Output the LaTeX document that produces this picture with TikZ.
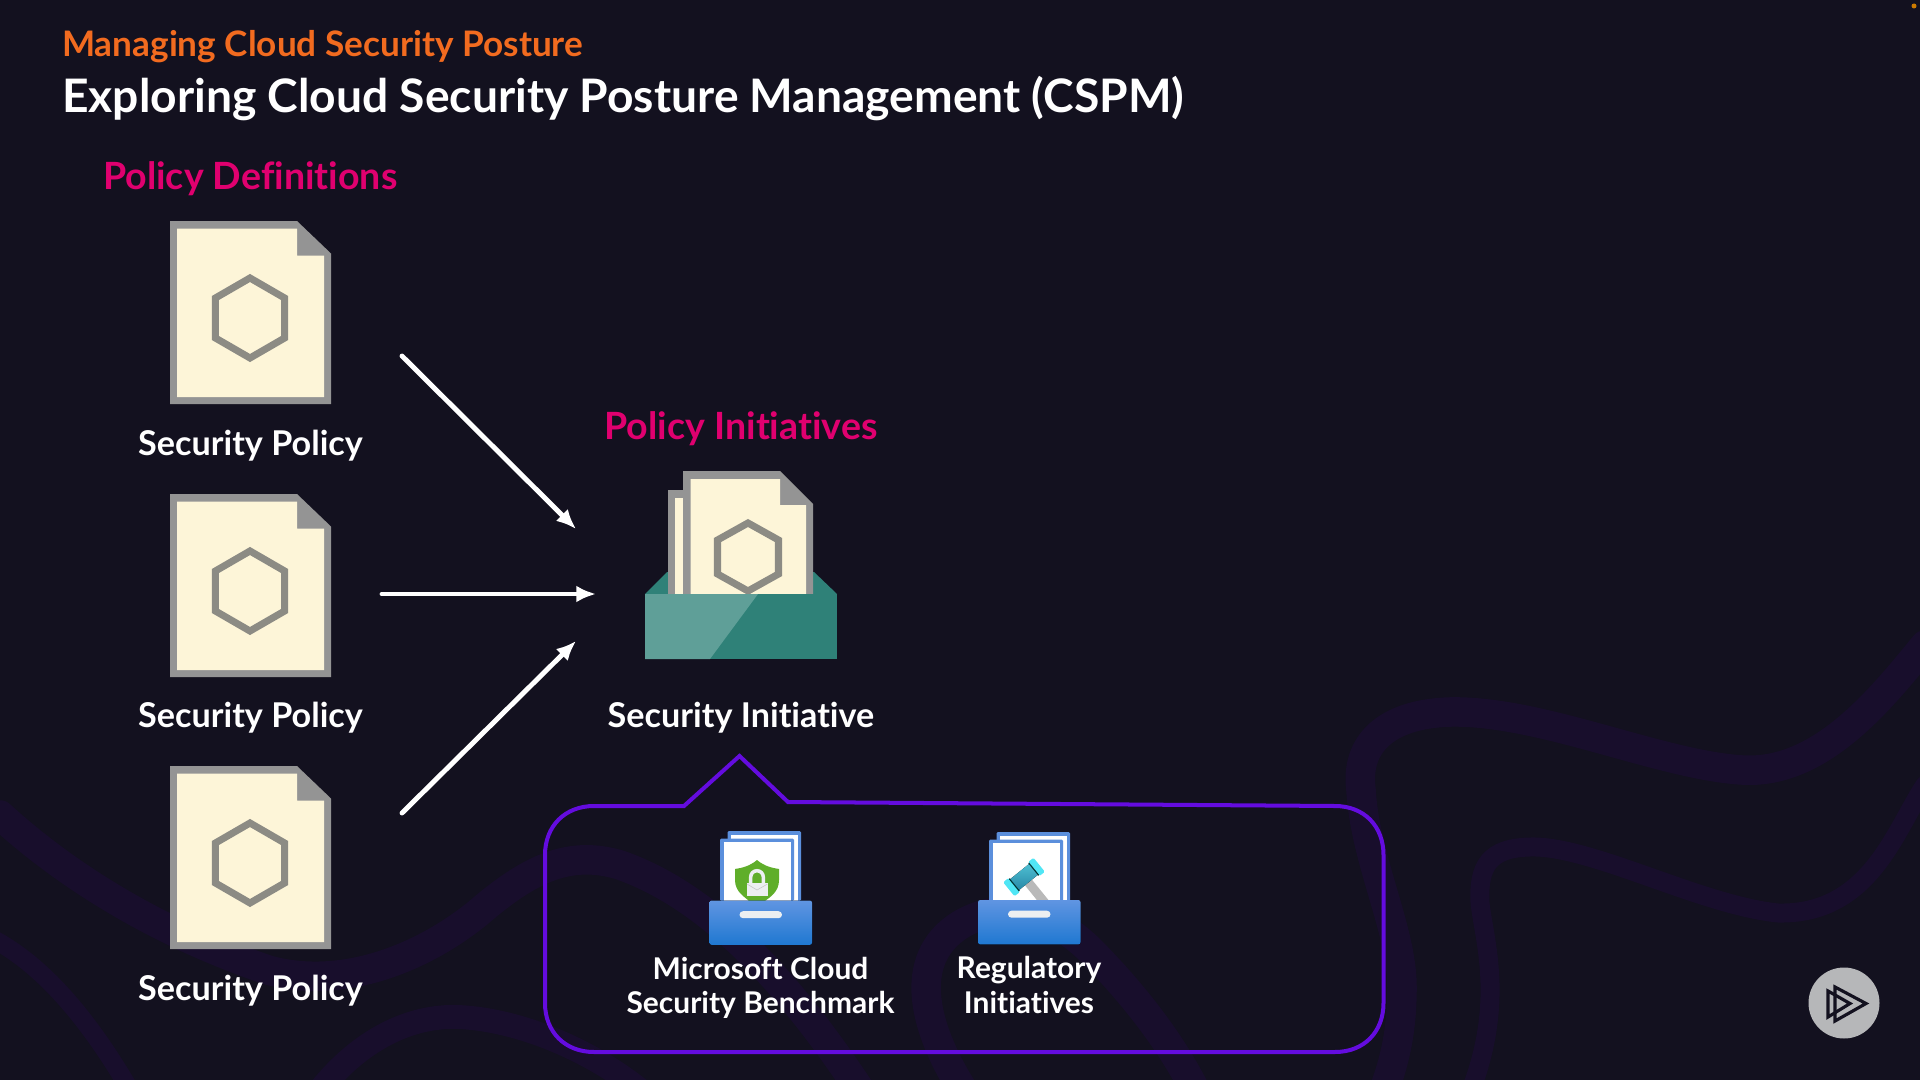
\documentclass[tikz,border=0pt]{standalone}
\usepackage{fontspec}
\setmainfont{Lato}[Ligatures=CommonOff]
\usepackage{xcolor}
\usetikzlibrary{positioning,arrows.meta,calc}
\definecolor{slidebg}{HTML}{13111F}
\definecolor{swoosh}{HTML}{180E2C}
\definecolor{orangehead}{HTML}{F26B1F}
\definecolor{pinkhead}{HTML}{E0006F}
\definecolor{docpaper}{HTML}{FDF5D8}
\definecolor{docedge}{HTML}{949494}
\definecolor{hexedge}{HTML}{8C8B84}
\definecolor{traydark}{HTML}{2F8178}
\definecolor{traylight}{HTML}{5F9F98}
\definecolor{calloutline}{HTML}{640CDF}
\definecolor{pageblue}{HTML}{5B8FDC}
\definecolor{traytop}{HTML}{6095E2}
\definecolor{traybot}{HTML}{1F78D1}
\definecolor{slotgray}{HTML}{ECEFF1}
\definecolor{logogray}{HTML}{B6B7B9}
\definecolor{shieldgreen}{HTML}{5FAE2A}
\definecolor{gavelcap}{HTML}{50E6F5}
\definecolor{gaveltop}{HTML}{4FBFD3}
\definecolor{gavelbot}{HTML}{2788A6}
\tikzset{
  swoosh/.style ={draw=swoosh, line cap=round, line join=round},
  lbl/.style    ={text=white, font=\fontsize{48.6}{58}\selectfont\bfseries, align=center, inner sep=0pt},
  head/.style   ={text=pinkhead, font=\fontsize{53.4}{64}\selectfont\bfseries, inner sep=0pt},
  smalllbl/.style={text=white, font=\fontsize{42.6}{48.6}\selectfont\bfseries, align=center, inner sep=0pt},
  arr/.style    ={-{Latex[length=28pt,width=24pt]}, white, line width=7pt, line cap=round},
  hexa/.style   ={draw=hexedge, line width=10pt, miter limit=10},
  policydoc/.pic={
    \fill[docedge] (0,0) -- (127,0) -- (161,32.5) -- (161,183) -- (0,183) -- cycle;
    \fill[docpaper] (7,7.5) -- (127,7.5) -- (127,34.5) -- (154,34.5) -- (154,176) -- (7,176) -- cycle;
    \draw[hexa] (80,57) -- (114.6,77) -- (114.6,117) -- (80,137) -- (45.4,117) -- (45.4,77) -- cycle;
  },
  benchtray/.pic={
    \fill[pageblue, rounded corners=2pt] (7.5,0) rectangle (81,70);
    \fill[white] (11,3.5) rectangle (78,70);
    \fill[pageblue, rounded corners=2pt] (0,7.5) rectangle (74,70);
    \fill[white] (3.5,11) rectangle (71,70);
  },
  trayfront/.pic={
    \fill[top color=traytop, bottom color=traybot, rounded corners=3pt] (0,0) rectangle (102.5,44.3);
    \fill[slotgray, rounded corners=5pt] (30,10.7) rectangle (72.5,17.7);
  },
}
\begin{document}
\begin{tikzpicture}[x=0.5mm, y=-0.5mm]
  \useasboundingbox (0,0) rectangle (1920,1080);
  \fill[slidebg] (0,0) rectangle (1920,1080);
  \fill[orange!80!yellow!80!black] (1914,6) circle (2.5);

  % background
  \draw[swoosh, line width=42pt] (0,815) .. controls (60,870) and (150,930) .. (268,970) .. controls (340,990) and (420,960) .. (478,913) .. controls (530,868) and (570,850) .. (620,865) .. controls (720,900) and (800,1000) .. (860,1090);
  \draw[swoosh, line width=26pt] (-5,940) .. controls (50,970) and (95,1030) .. (130,1090);
  \draw[swoosh, line width=34pt] (320,1090) .. controls (360,1040) and (410,1015) .. (459,1017) .. controls (520,1020) and (590,1050) .. (640,1090);
  \draw[swoosh, line width=42pt] (963,1090) .. controls (925,1030) and (905,960) .. (960,925) .. controls (1010,895) and (1060,920) .. (1090,950) .. controls (1130,990) and (1170,1040) .. (1195,1090);
  \draw[swoosh, line width=42pt] (1925,645) .. controls (1880,700) and (1820,775) .. (1742,770) .. controls (1660,765) and (1540,710) .. (1450,712) .. controls (1385,714) and (1355,745) .. (1361,790) .. controls (1365,860) and (1402,930) .. (1402,987) .. controls (1402,1030) and (1395,1060) .. (1384,1090);
  \draw[swoosh, line width=27pt] (1925,785) .. controls (1895,830) and (1870,915) .. (1778,913) .. controls (1700,905) and (1590,845) .. (1530,847) .. controls (1490,848) and (1478,865) .. (1480,903) .. controls (1484,940) and (1505,1000) .. (1471,1090);

  \node[text=orangehead, font=\fontsize{50}{60}\selectfont\bfseries, anchor=west, inner sep=0pt] (subtitle) at (62,47) {Managing Cloud Security Posture};
  \node[text=white, font=\fontsize{65.7}{78}\selectfont\bfseries, anchor=west, inner sep=0pt] (maintitle) at (62,99) {Exploring Cloud Security Posture Management (CSPM)};

  % policy definitions
  \node[head, anchor=west] (defshead) at (103,179) {Policy Definitions};
  \pic at (170,221) {policydoc};
  \pic at (170,494) {policydoc};
  \pic at (170,766) {policydoc};
  \node[lbl] (polone) at (250.5,446) {Security Policy};
  \node[lbl] (poltwo) at (250.5,718) {Security Policy};
  \node[lbl] (polthree) at (250.5,991) {Security Policy};

  % initiative
  \node[head] (inithead) at (741,429) {Policy Initiatives};
  \fill[traydark] (645,594) -- (667,572) -- (814,572) -- (837,594) -- cycle;
  \fill[docedge] (668,490) rectangle (700,594);
  \fill[docpaper] (675,498) rectangle (700,594);
  \fill[docedge] (683,471) -- (780,471) -- (813,504) -- (813,594) -- (683,594) -- cycle;
  \fill[docpaper] (690.5,479) -- (780,479) -- (780,505) -- (806,505) -- (806,594) -- (690.5,594) -- cycle;
  \draw[hexa] (748,523) -- (778.5,540) -- (778.5,574) -- (748,591) -- (717.5,574) -- (717.5,540) -- cycle;
  \fill[traydark] (645,594) rectangle (837,659);
  \fill[traylight] (645,594) -- (758,594) -- (710,659) -- (645,659) -- cycle;
  \node[lbl] (initlbl) at (741,718) {Security Initiative};

  % arrows
  \coordinate (aonefrom) at (402,356);
  \coordinate (atwofrom) at (382,594);
  \coordinate (athreefrom) at (402,813);
  \coordinate (aoneto) at (576,529);
  \coordinate (atwoto) at (596,594);
  \coordinate (athreeto) at (576,641);
  \draw[arr] (aonefrom) -- (aoneto);
  \draw[arr] (atwofrom) -- (atwoto);
  \draw[arr] (athreefrom) -- (athreeto);

  % callout
  \draw[draw=calloutline, line width=5.7pt, line join=miter] (684,806) -- (739.5,756) -- (788,802) -- (1335,806) .. controls (1364,806) and (1383.5,826) .. (1383.5,855) -- (1383.5,1003) .. controls (1383.5,1032) and (1364,1052) .. (1335,1052) -- (594,1052) .. controls (565,1052) and (545,1032) .. (545,1003) -- (545,855) .. controls (545,826) and (565,806) .. (594,806) -- cycle;

  % benchmark icon
  \pic at (720,831) {benchtray};
  \fill[shieldgreen] (757,860) .. controls (750,866) and (742,868) .. (735,869) -- (735,880) .. controls (735,892) and (745,897) .. (749,901) -- (765,901) .. controls (770,897) and (779,892) .. (779,880) -- (779,869) .. controls (772,868) and (764,866) .. (757,860) -- cycle;
  \draw[draw=slotgray, line width=5pt] (750.7,884) -- (750.7,877) arc[start angle=180, end angle=360, radius=6.3] -- (763.3,884);
  \fill[slotgray] (747,883) rectangle (767.5,896);
  \draw[gray!45!white, line width=0.8pt] (747,884) -- (757,890) -- (767.5,884);
  \pic at (709.5,900.5) {trayfront};
  \node[smalllbl] (benchlbl) at (760.5,988) {Microsoft Cloud\\Security Benchmark};

  % regulatory icon
  \pic at (989,832) {benchtray};
  \begin{scope}[shift={(1024,877)}, rotate=39]
    \fill[gray!55!white] (-4.5,6) rectangle (4.5,40);
    \fill[top color=gaveltop, bottom color=gavelbot] (-13,-7) rectangle (13,7);
    \fill[gavelcap, rounded corners=2pt] (-19.5,-9) rectangle (-12.5,9);
    \fill[gavelcap, rounded corners=2pt] (12.5,-9) rectangle (19.5,9);
    \draw[black!60!teal, line width=1.6pt] (-12.5,-8) -- (-12.5,8);
    \draw[black!60!teal, line width=1.6pt] (12.5,-8) -- (12.5,8);
  \end{scope}
  \pic at (978,900) {trayfront};
  \node[smalllbl] (reglbl) at (1029,985) {Regulatory\\Initiatives};

  % logo
  \node[circle, fill=logogray, minimum size=101pt, inner sep=0pt] (logo) at (1844,1003) {};
  \draw[slidebg, line width=4.5pt, line join=miter] (1835,987) -- (1835,1021) -- (1866,1003.5) -- cycle;
  \draw[slidebg, line width=4.5pt, line join=miter] (1828,991) -- (1828,1017) -- (1850,1003.5) -- cycle;
\end{tikzpicture}
\end{document}
